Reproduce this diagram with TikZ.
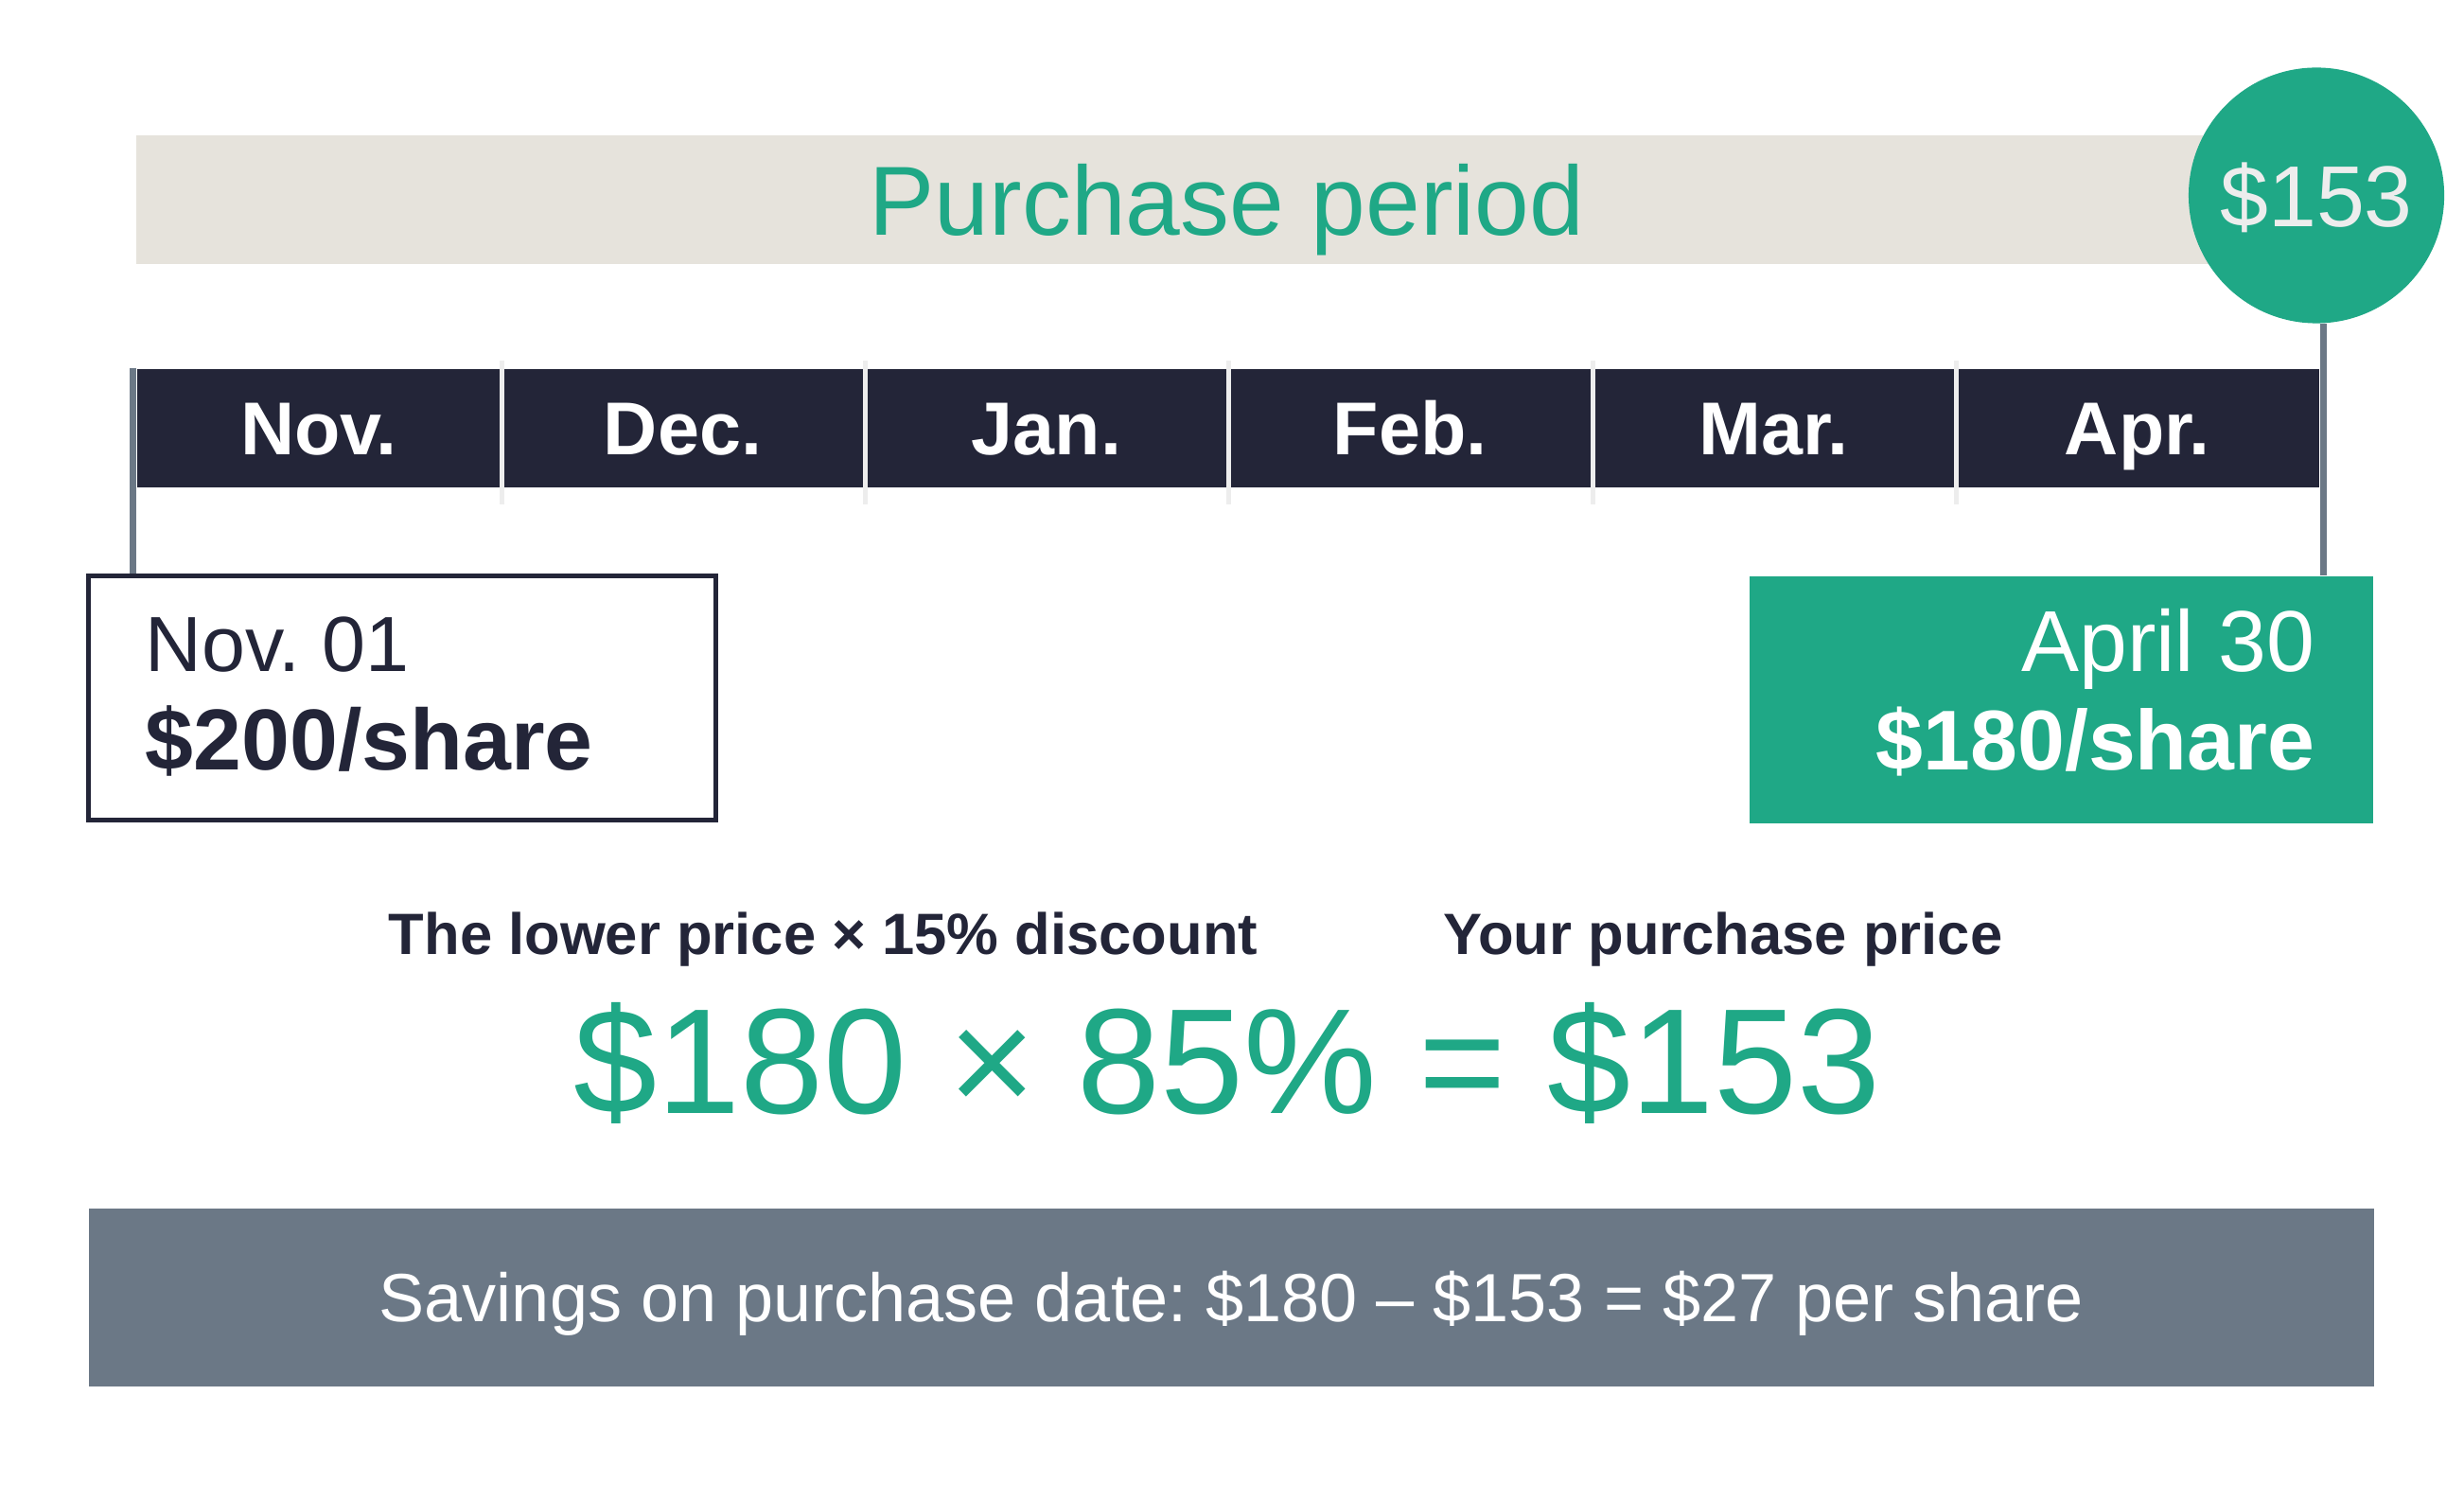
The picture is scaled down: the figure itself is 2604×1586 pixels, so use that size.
\documentclass[tikz,border=0pt]{standalone}
\usepackage{fontspec}
\setmainfont{Liberation Sans}
\usetikzlibrary{positioning, calc}
\definecolor{ppgreen}{HTML}{1FA886}
\definecolor{ppnavy}{HTML}{232538}
\definecolor{ppbeige}{HTML}{E6E3DC}
\definecolor{ppslate}{HTML}{6B7886}
\definecolor{ppdivider}{HTML}{EDEDED}
\newcommand{\fsz}[1]{\fontsize{#1pt}{#1pt}\selectfont}
\frenchspacing

\begin{document}
\begin{tikzpicture}[x=0.01cm, y=-0.01cm,
  capcentred/.style={text depth=0pt, inner sep=0pt},
  monthcell/.style={capcentred, text height=16.1pt, fill=ppnavy, text=white,
    minimum width=3.843cm, minimum height=1.25cm, font=\bfseries\fsz{22.5}},
  divider/.style={draw=ppdivider, line width=1.4pt},
  tickline/.style={draw=ppslate, line width=2pt},
  pricebox/.style={inner sep=0pt},
  boxtext/.style={inner sep=0pt}]
\fill[white] (0,0) rectangle (2604,1586);

% Purchase period band and final price
\node[capcentred, fill=ppbeige, minimum width=23.03cm, minimum height=1.36cm,
  text=ppgreen, font=\fsz{29.5}, text height=21.1pt] (period) at (1296.5,211) {Purchase period};
\node[circle, fill=ppgreen, minimum size=2.7cm, inner sep=0pt, text=ppdivider,
  font=\fsz{26}, text height=18.6pt, text depth=0pt] (pricedot) at (2448,206.5) {\$153};

% Months
\foreach \m [count=\i] in {Nov.,Dec.,Jan.,Feb.,Mar.,Apr.}
  \node[monthcell] (m\i) at ({145+384.33*(\i-0.5)},452.5) {\m};
\foreach \i in {1,...,5}
  \draw[divider] ([yshift=0.08cm]m\i.north east) -- ([yshift=-0.17cm]m\i.south east);

% Price boxes
\node[pricebox, draw=ppnavy, line width=1.4pt, fill=white,
  minimum width=6.63cm, minimum height=2.58cm] (novbox) at (425,737.5) {};
\node[pricebox, fill=ppgreen, minimum width=6.59cm, minimum height=2.61cm] (aprbox) at (2178.5,739.5) {};

% Ticks
\draw[tickline] ([xshift=-0.035cm]m1.north west) -- ([xshift=-0.035cm]m1.west |- novbox.north);
\draw[tickline] ([xshift=0.035cm]pricedot.south -| m6.east) -- ([xshift=0.035cm]m6.east |- aprbox.north);

\node[boxtext, anchor=base west, text=ppnavy, font=\fsz{23.5}] (novdate) at (153,709) {Nov. 01};
\node[boxtext, anchor=base west, text=ppnavy, font=\bfseries\fsz{26}] (novprice) at (153,814) {\$200/share};
\node[boxtext, anchor=base east, text=white, font=\fsz{26}] (aprdate) at (2447,709) {April 30};
\node[boxtext, anchor=base east, text=white, font=\bfseries\fsz{25.5}] (aprprice) at (2447,814) {\$180/share};

% Calculation
\node[boxtext, anchor=base, text=ppnavy, font=\bfseries\fsz{17.5}] (lowerlbl) at (870,1008) {The lower price × 15\% discount};
\node[boxtext, anchor=base, text=ppnavy, font=\bfseries\fsz{17.5}] (yourlbl) at (1821,1008) {Your purchase price};
\node[boxtext, anchor=base, text=ppgreen, font=\fsz{45}] (formula) at (1297,1176) {\$180 × 85\% = \$153};

% Savings
\node[capcentred, fill=ppslate, minimum width=24.13cm, minimum height=1.88cm, text=white,
  font=\fsz{20.5}, text height=14.7pt] (savings) at (1301.5,1371) {Savings on purchase date: \$180 – \$153 = \$27 per share};
\end{tikzpicture}
\end{document}
